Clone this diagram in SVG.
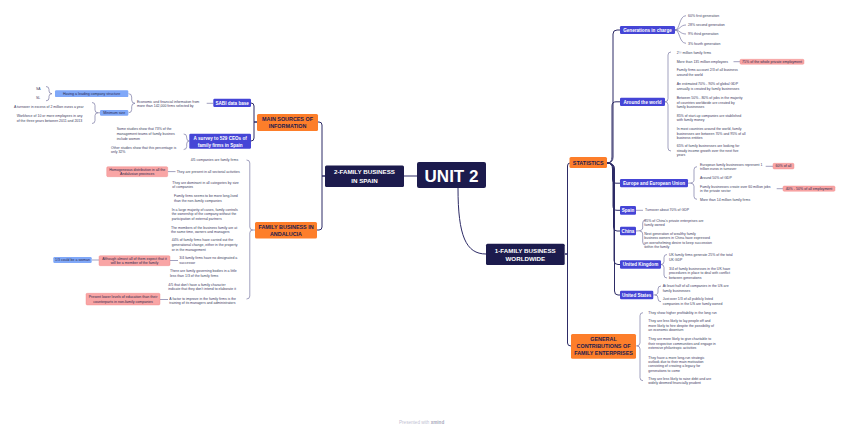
<svg xmlns="http://www.w3.org/2000/svg" width="848" height="430" viewBox="0 0 848 430">
<style>
.t{font-family:"Liberation Sans",Arial,sans-serif;font-size:3.5px;fill:#3b3a5e}
.h{font-family:"Liberation Sans",Arial,sans-serif;font-weight:bold;text-anchor:middle}
.w{fill:#ffffff}
.d{fill:#1c1b4d}
.navy{fill:#1c1b4d}
.orange{fill:#fd7e2a}
.blue{fill:#4545d6}
.lb{fill:#80a8f8}
.pink{fill:#f9a5a5;stroke:#f08585;stroke-width:0.4}
.ln{fill:none;stroke:#2d2b66;stroke-width:1}
.ll{fill:none;stroke:#7a79a3;stroke-width:0.7}
.bt{font-size:4.6px}
.st{font-size:3.6px;fill:#2b2a4c;text-anchor:middle;font-family:"Liberation Sans",Arial,sans-serif}
</style>
<rect width="848" height="430" fill="#ffffff"/>

<g id="connectors">
<path class="ln" d="M404,176 H417"/>
<path class="ln" d="M458,188 C458,236 466,254 486,254"/>
<path class="ln" d="M325,176 H322 V125 Q322,122 319,122 H318"/>
<path class="ln" d="M325,176 H322 V227 Q322,230 319,230 H317"/>
<path class="ln" d="M565,254 H567.5 V166 Q567.5,163 570,163"/>
<path class="ln" d="M565,254 H567.5 V343 Q567.5,346 571,346"/>
<path class="ln" d="M607,163 Q613,163 613,157 V34 Q613,30 617,30 H620"/>
<path class="ln" d="M607,163 Q612,163 612,157 V106 Q612,101.8 616,101.8 H620"/>
<path class="ln" d="M607,163 Q612.5,163 612.5,169 V179 Q612.5,183.2 616,183.2 H620"/>
<path class="ln" d="M607,163 Q613,163 613,169 V206 Q613,210.3 617,210.3 H620"/>
<path class="ln" d="M607,163 Q613.5,163 613.5,169 V227 Q613.5,231 617,231 H620"/>
<path class="ln" d="M607,163 Q614,163 614,169 V260.5 Q614,264.5 618,264.5 H620"/>
<path class="ln" d="M607,163 Q614.5,163 614.5,169 V291 Q614.5,295 618,295 H620"/>
<path class="ln" d="M257,122 H254 V106 Q254,103 251,103"/>
<path class="ln" d="M257,122 H254 V138 Q254,141 251,141"/>

<path class="ll" d="M206.7,103.3 H213.3"/>
<path class="ll" d="M128.5,93.7 Q131.7,93.7 131.7,97 V100 Q131.7,103.3 135,103.3 Q131.7,103.3 131.7,106.5 V109.5 Q131.7,112.8 128.5,112.8"/>
<path class="ll" d="M46,86.5 Q49,86.5 49,89.5 V91 Q49,93.7 52,93.7 Q49,93.7 49,96.4 V98 Q49,100.8 46,100.8"/>
<path class="ll" d="M92,102.5 Q95,102.5 95,105.5 V110 Q95,112.8 98,112.8 H100 M98,112.8 Q95,112.8 95,115.6 V120.5 Q95,123.5 92,123.5"/>
<path class="ll" d="M183.7,134 Q186.7,134 186.7,137 V138 Q186.7,141 189.3,141 M189.3,141 Q186.7,141 186.7,144 V146.5 Q186.7,149.5 183.7,149.5"/>
<path class="ll" d="M246.5,160 Q249.8,160 249.8,163 V227 Q249.8,230 252.8,230 H255 M252.8,230 Q249.8,230 249.8,233 V296 Q249.8,299 246.5,299"/>
<path class="ll" d="M167.7,171.6 H175.5"/>
<path class="ll" d="M170,260.5 H178"/>
<path class="ll" d="M91.7,260 H99"/>
<path class="ll" d="M160,299.5 H168"/>

<path class="ll" d="M675,30 C680,30 679,15.7 686,15.7"/>
<path class="ll" d="M675,30 C680,30 680,25 686,25"/>
<path class="ll" d="M675,30 C680,30 680,34 686,34"/>
<path class="ll" d="M675,30 C680,30 679,43.3 686,43.3"/>
<path class="ll" d="M671,52 Q668,52 668,55 V98.8 Q668,101.8 665,101.8 M665,101.8 Q668,101.8 668,104.8 V148 Q668,151 671,151"/>
<path class="ll" d="M733.5,61.7 H740"/>
<path class="ll" d="M697,166.7 Q694,166.7 694,169.7 V180.2 Q694,183.2 688,183.2 M690.5,183.2 Q694,183.2 694,186.2 V196.3 Q694,199.3 697,199.3"/>
<path class="ll" d="M765.7,166.3 H773"/>
<path class="ll" d="M776.7,188.7 H783"/>
<path class="ll" d="M636,210.3 H643"/>
<path class="ll" d="M645.5,220 Q642.7,220 642.7,223 V228 Q642.7,231 636,231 M639.5,231 Q642.7,231 642.7,234 V242 Q642.7,245 645.5,245"/>
<path class="ll" d="M667,254.5 Q664,254.5 664,257.5 V261.5 Q664,264.5 661,264.5 M661,264.5 Q664,264.5 664,267.5 V275 Q664,278 667,278"/>
<path class="ll" d="M661,286 Q658,286 658,289 V292 Q658,295 653.3,295 M655,295 Q658,295 658,298 V298.7 Q658,301.7 661,301.7"/>
<path class="ll" d="M643,312.7 Q640,312.7 640,315.7 V343 Q640,346 636,346 M637,346 Q640,346 640,349 V377.7 Q640,380.7 643,380.7"/>
</g>

<g id="unit2">
<rect x="417" y="162" width="69" height="26" rx="2" class="navy"/>
<text x="451.5" y="181.5" class="h w" font-size="17">UNIT 2</text>
</g>

<g id="spain-branch">
<rect x="325" y="165.5" width="79" height="21.5" rx="1.5" class="navy"/>
<text class="h w" font-size="6.2"><tspan x="364.5" y="174.2">2-FAMILY BUSINESS</tspan><tspan x="364.5" y="183.2">IN SPAIN</tspan></text>
</g>

<g id="main-sources">
<rect x="257" y="114" width="61" height="17" rx="1.5" class="orange"/>
<text class="h d" font-size="5.4"><tspan x="287.5" y="121">MAIN SOURCES OF</tspan><tspan x="287.5" y="128">INFORMATION</tspan></text>
</g>

<g id="andalucia">
<rect x="255" y="222" width="62" height="16.5" rx="1.5" class="orange"/>
<text class="h d" font-size="5.4"><tspan x="286" y="228.8">FAMILY BUSINESS IN</tspan><tspan x="286" y="236">ANDALUCIA</tspan></text>
</g>

<g id="worldwide">
<rect x="486" y="243.7" width="78.7" height="21.3" rx="1.5" class="navy"/>
<text class="h w" font-size="6.2"><tspan x="525.3" y="252.8">1-FAMILY BUSINESS</tspan><tspan x="525.3" y="261.3">WORLDWIDE</tspan></text>
</g>

<g id="statistics">
<rect x="569.5" y="157" width="37.5" height="11" rx="1.5" class="orange"/>
<text x="588.2" y="165" class="h d" font-size="5.4">STATISTICS</text>
</g>

<g id="general">
<rect x="571" y="334" width="65" height="24.7" rx="1.5" class="orange"/>
<text class="h d" font-size="5.4"><tspan x="603.5" y="341.3">GENERAL</tspan><tspan x="603.5" y="348.2">CONTRIBUTIONS OF</tspan><tspan x="603.5" y="355.3">FAMILY ENTERPRISES</tspan></text>
</g>

<g id="sabi">
<rect x="213.3" y="98.7" width="37.7" height="8.3" rx="1.2" class="blue"/>
<text x="232.2" y="104.5" class="h w bt">SABI data base</text>
</g>
<g id="survey">
<rect x="189.3" y="133.7" width="61.7" height="15" rx="1.2" class="blue"/>
<text class="h w bt"><tspan x="220.2" y="139.9">A survey to 529 CEOs of</tspan><tspan x="220.2" y="146.5">family firms in Spain</tspan></text>
</g>
<g id="sabi-info">
<text class="t"><tspan x="137" y="102.6">Economic and financial information from</tspan><tspan x="137" y="107.2">more than 142,000 firms selected by</tspan></text>
</g>
<g id="leading">
<rect x="55" y="90.3" width="73.3" height="6.8" rx="1.2" class="lb"/>
<text x="91.6" y="95" class="st" font-size="4">Having a leading company structure</text>
</g>
<g id="sa"><text x="36" y="90.3" class="t">SA</text></g>
<g id="sl"><text x="36" y="98.6" class="t">SL</text></g>
<g id="minimum">
<rect x="100" y="110" width="28.3" height="5.8" rx="1.2" class="lb"/>
<text x="114.2" y="114.2" class="st" font-size="4">Minimum size</text>
</g>
<g id="turnover"><text x="14" y="107.6" class="t">A turnover in excess of 2 million euros a year</text></g>
<g id="workforce"><text class="t"><tspan x="16.7" y="117.3">Workforce of 10 or more employees in any</tspan><tspan x="16.7" y="122">of the three years between 2011 and 2013</tspan></text></g>
<g id="survey-1"><text class="t"><tspan x="116.7" y="130.3">Some studies show that 73% of the</tspan><tspan x="116.7" y="135">management teams of family busines</tspan><tspan x="116.7" y="139.6">include women</tspan></text></g>
<g id="survey-2"><text class="t"><tspan x="111" y="148.6">Other studies show that this percentage is</tspan><tspan x="111" y="153.3">only 32%</tspan></text></g>

<g id="and-1"><text x="190.7" y="161.3" class="t">4/5 companies are family firms</text></g>
<g id="and-2"><text x="176.7" y="172.6" class="t">They are present in all sectorial activities</text></g>
<g id="homogeneous">
<rect x="106.7" y="166.7" width="61" height="10" rx="1.2" class="pink"/>
<text class="st"><tspan x="137.2" y="170.8">Homogeneous distribution in all the</tspan><tspan x="137.2" y="175.3">Andalusian provinces</tspan></text>
</g>
<g id="and-3"><text class="t"><tspan x="172.3" y="183.6">They are dominant in all categories by size</tspan><tspan x="172.3" y="188.3">of companies</tspan></text></g>
<g id="and-4"><text class="t"><tspan x="174" y="196.8">Family firms seems to be more long-lived</tspan><tspan x="174" y="201.5">than the non-family companies</tspan></text></g>
<g id="and-5"><text class="t"><tspan x="171.7" y="210.6">In a large majority of cases, family controls</tspan><tspan x="171.7" y="215.3">the ownership of the company without the</tspan><tspan x="171.7" y="219.9">participation of external partners</tspan></text></g>
<g id="and-6"><text class="t"><tspan x="171" y="228.6">The members of the business family are at</tspan><tspan x="171" y="233.3">the same time, owners and managers</tspan></text></g>
<g id="and-7"><text class="t"><tspan x="171.7" y="241.3">44% of family firms have carried out the</tspan><tspan x="171.7" y="246">generational change, either in the property</tspan><tspan x="171.7" y="250.7">or in the management</tspan></text></g>
<g id="and-8"><text class="t"><tspan x="179.3" y="259.3">3/4 family firms have no designated a</tspan><tspan x="179.3" y="264">successor</tspan></text></g>
<g id="although">
<rect x="99" y="255.7" width="71" height="10" rx="1.2" class="pink"/>
<text class="st"><tspan x="134.5" y="259.8">Although almost all of them expect that it</tspan><tspan x="134.5" y="264.3">will be a member of the family</tspan></text>
</g>
<g id="woman">
<rect x="53.3" y="257" width="38.4" height="6" rx="1.2" class="lb"/>
<text x="72.5" y="261.3" class="st">1/3 could be a woman</text>
</g>
<g id="and-9"><text class="t"><tspan x="170" y="272.3">There are family governing bodies in a little</tspan><tspan x="170" y="277">less than 1/3 of the family firms</tspan></text></g>
<g id="and-10"><text class="t"><tspan x="168.3" y="285.6">4/5 that don't have a family character</tspan><tspan x="168.3" y="290.3">indicate that they don't intend to elaborate it</tspan></text></g>
<g id="and-11"><text class="t"><tspan x="169.3" y="299.6">A factor to improve in the family firms is the</tspan><tspan x="169.3" y="304.3">training of its managers and administrators</tspan></text></g>
<g id="education">
<rect x="86" y="293.3" width="74" height="11.7" rx="1.2" class="pink"/>
<text class="st"><tspan x="123" y="298.1">Present lower levels of education than their</tspan><tspan x="123" y="302.8">counterparts in non-family companies</tspan></text>
</g>

<g id="generations">
<rect x="620" y="26" width="55" height="8" rx="1.2" class="blue"/>
<text x="647.5" y="31.6" class="h w bt">Generations in charge</text>
</g>
<g id="gen-1"><text x="688" y="17" class="t">60% first generation</text></g>
<g id="gen-2"><text x="688" y="26.3" class="t">28% second generation</text></g>
<g id="gen-3"><text x="688" y="35.3" class="t">9% third generation</text></g>
<g id="gen-4"><text x="688" y="44.6" class="t">3% fourth generation</text></g>

<g id="world">
<rect x="620" y="97.7" width="45" height="8.3" rx="1.2" class="blue"/>
<text x="642.5" y="103.5" class="h w bt">Around the world</text>
</g>
<g id="w-1"><text x="676.7" y="53.6" class="t">2½ million family firms</text></g>
<g id="w-2"><text x="676.7" y="63" class="t">More than 135 million employees</text></g>
<g id="w-2b">
<rect x="740" y="59.3" width="64" height="5" rx="1.2" class="pink"/>
<text x="772" y="63.1" class="st">75% of the whole private employment</text>
</g>
<g id="w-3"><text class="t"><tspan x="676.7" y="71.3">Family firms account 2/3 of all business</tspan><tspan x="676.7" y="76.3">around the world</tspan></text></g>
<g id="w-4"><text class="t"><tspan x="676.7" y="85">An estimated 70% - 90% of global GDP</tspan><tspan x="676.7" y="89.6">annually is created by family businesses</tspan></text></g>
<g id="w-5"><text class="t"><tspan x="676.7" y="99">Between 50% - 80% of jobs in the majority</tspan><tspan x="676.7" y="103.6">of countries worldwide are created by</tspan><tspan x="676.7" y="108.3">family businesses</tspan></text></g>
<g id="w-6"><text class="t"><tspan x="676.7" y="116.6">85% of start-up companies are stablished</tspan><tspan x="676.7" y="121.3">with family money</tspan></text></g>
<g id="w-7"><text class="t"><tspan x="676.7" y="130">In most countries around the world, family</tspan><tspan x="676.7" y="134.6">businesses are between 70% and 95% of all</tspan><tspan x="676.7" y="139.3">business entities</tspan></text></g>
<g id="w-8"><text class="t"><tspan x="676.7" y="147">65% of family businesses are looking for</tspan><tspan x="676.7" y="151.6">steady income growth over the next five</tspan><tspan x="676.7" y="156.3">years</tspan></text></g>

<g id="europe">
<rect x="620" y="179" width="68" height="8.3" rx="1.2" class="blue"/>
<text x="654" y="184.9" class="h w bt">Europe and European Union</text>
</g>
<g id="e-1"><text class="t"><tspan x="700" y="165.6">European family businesses represent 1</tspan><tspan x="700" y="170.3">trillion euros in turnover</tspan></text></g>
<g id="e-1b">
<rect x="773" y="163.3" width="21" height="5.7" rx="1.2" class="pink"/>
<text x="783.5" y="167.4" class="st">60% of all</text>
</g>
<g id="e-2"><text x="700" y="179" class="t">Around 50% of GDP</text></g>
<g id="e-3"><text class="t"><tspan x="700" y="188">Family businesses create over 60 million jobs</tspan><tspan x="700" y="192.3">in the private sector</tspan></text></g>
<g id="e-3b">
<rect x="783" y="186" width="52" height="5.3" rx="1.2" class="pink"/>
<text x="809" y="189.9" class="st">40% - 50% of all employment</text>
</g>
<g id="e-4"><text x="700" y="200.6" class="t">More than 14 million family firms</text></g>

<g id="spain">
<rect x="620" y="206" width="16" height="8.7" rx="1.2" class="blue"/>
<text x="628" y="212" class="h w bt">Spain</text>
</g>
<g id="s-1"><text x="645" y="211" class="t">Turnover about 70% of GDP</text></g>

<g id="china">
<rect x="620" y="226.7" width="16" height="8.6" rx="1.2" class="blue"/>
<text x="628" y="232.7" class="h w bt">China</text>
</g>
<g id="c-1"><text class="t"><tspan x="644.3" y="221.6">85% of China's private enterprises are</tspan><tspan x="644.3" y="226">family owned</tspan></text></g>
<g id="c-2"><text class="t"><tspan x="644.3" y="234.6">Next generation of wealthy family</tspan><tspan x="644.3" y="239.3">business owners in China have expressed</tspan><tspan x="644.3" y="243.6">an overwhelming desire to keep succession</tspan><tspan x="644.3" y="248">within the family</tspan></text></g>

<g id="uk">
<rect x="620" y="260.3" width="41" height="8.4" rx="1.2" class="blue"/>
<text x="640.5" y="266.2" class="h w bt">United Kingdom</text>
</g>
<g id="uk-1"><text class="t"><tspan x="669" y="256.3">UK family firms generate 25% of the total</tspan><tspan x="669" y="261">UK GDP</tspan></text></g>
<g id="uk-2"><text class="t"><tspan x="669" y="269.6">3/4 of family businesses in the UK have</tspan><tspan x="669" y="274.3">procedures in place to deal with conflict</tspan><tspan x="669" y="278.6">between generations</tspan></text></g>

<g id="us">
<rect x="620" y="290.7" width="33.3" height="8.6" rx="1.2" class="blue"/>
<text x="636.6" y="296.7" class="h w bt">United States</text>
</g>
<g id="us-1"><text class="t"><tspan x="662.7" y="287.4">At least half of all companies in the US are</tspan><tspan x="662.7" y="291.8">family businesses</tspan></text></g>
<g id="us-2"><text class="t"><tspan x="662.7" y="300.4">Just over 1/3 of all publicly listed</tspan><tspan x="662.7" y="304.8">companies in the US are family owned</tspan></text></g>

<g id="g-1"><text x="648.3" y="313.6" class="t">They show higher profitability in the long run</text></g>
<g id="g-2"><text class="t"><tspan x="648.3" y="322.3">They are less likely to lay people off and</tspan><tspan x="648.3" y="326.8">more likely to hire despite the possibility of</tspan><tspan x="648.3" y="331.3">an economic downturn</tspan></text></g>
<g id="g-3"><text class="t"><tspan x="648.3" y="340">They are more likely to give charitable to</tspan><tspan x="648.3" y="344.5">their respective communities and engage in</tspan><tspan x="648.3" y="349">extensive philantropic activities</tspan></text></g>
<g id="g-4"><text class="t"><tspan x="648.3" y="358.6">They have a more long-run strategic</tspan><tspan x="648.3" y="363">outlook due to their main motivation</tspan><tspan x="648.3" y="367.3">consisting of creating a legacy for</tspan><tspan x="648.3" y="371.6">generations to come</tspan></text></g>
<g id="g-5"><text class="t"><tspan x="648.3" y="379.6">They are less likely to raise debt and are</tspan><tspan x="648.3" y="384.3">widely deemed financially prudent</tspan></text></g>

<g id="footer">
<text x="399" y="424.3" font-family="Liberation Sans, Arial, sans-serif" font-size="4.6" fill="#c3c3d3">Presented with <tspan font-weight="bold" fill="#a9a9bd">xmind</tspan></text>
</g>
</svg>
